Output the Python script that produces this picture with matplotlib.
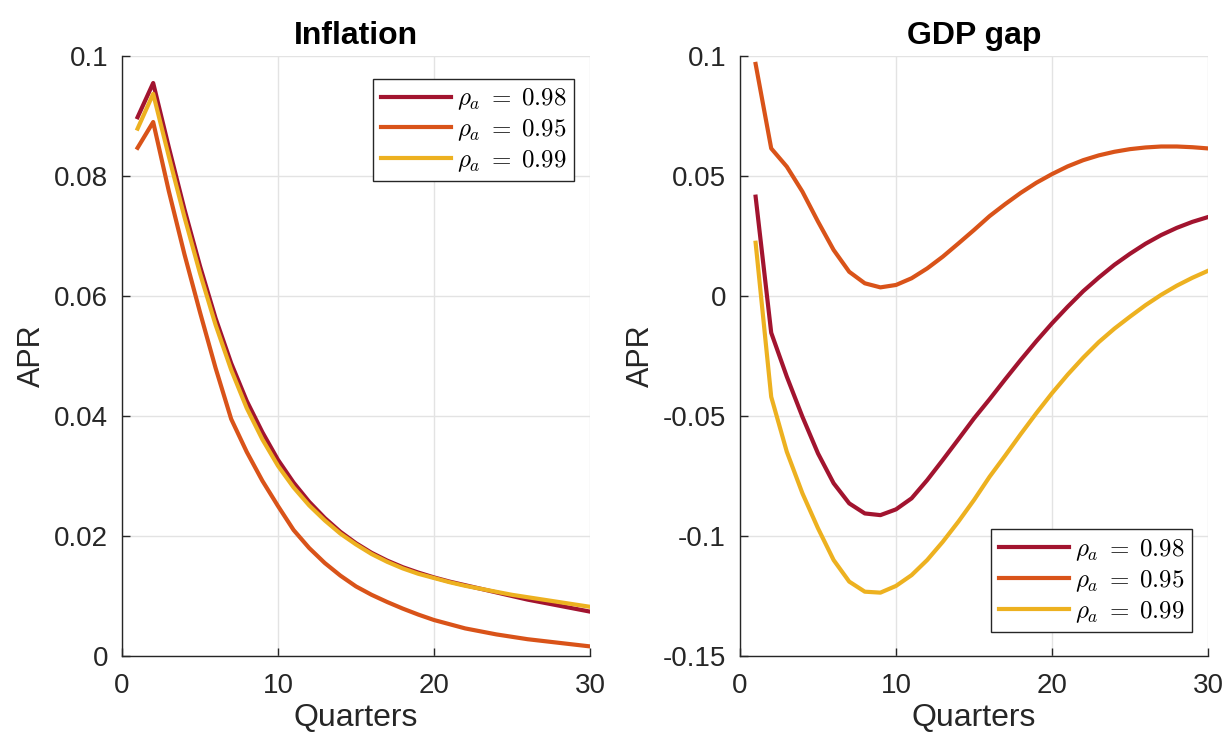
import numpy as np
import matplotlib
matplotlib.use("Agg")
from matplotlib import pyplot as plt

plt.rcParams['font.family'] = ['Liberation Sans', 'DejaVu Sans']
plt.rcParams['mathtext.fontset'] = 'cm'
plt.rcParams['axes.unicode_minus'] = False

quarters = np.arange(1, 31)

# inflation responses
infl_098 = [0.0898, 0.0955, 0.0848, 0.0745, 0.0650, 0.0563, 0.0488, 0.0425, 0.0373, 0.0327,
            0.0289, 0.0257, 0.0230, 0.0207, 0.0188, 0.0172, 0.0159, 0.0148, 0.0139, 0.0131,
            0.0124, 0.0118, 0.0112, 0.0106, 0.0100, 0.0094, 0.0089, 0.0084, 0.0079, 0.0074]
infl_095 = [0.0847, 0.0890, 0.0775, 0.0670, 0.0573, 0.0480, 0.0395, 0.0340, 0.0292, 0.0250,
            0.0210, 0.0180, 0.0155, 0.0134, 0.0116, 0.0102, 0.0090, 0.0079, 0.0069, 0.0060,
            0.0053, 0.0046, 0.0041, 0.0036, 0.0032, 0.0028, 0.0025, 0.0022, 0.0019, 0.0016]
infl_099 = [0.0879, 0.0937, 0.0833, 0.0732, 0.0638, 0.0552, 0.0477, 0.0413, 0.0361, 0.0317,
            0.0281, 0.0251, 0.0226, 0.0204, 0.0186, 0.0170, 0.0157, 0.0146, 0.0137, 0.0130,
            0.0123, 0.0117, 0.0112, 0.0107, 0.0102, 0.0098, 0.0094, 0.0090, 0.0086, 0.0082]

# gdp gap responses
gap_098 = [0.0414, -0.0153, -0.0336, -0.0503, -0.0656, -0.0780, -0.0864, -0.0906, -0.0913, -0.0889,
           -0.0843, -0.0767, -0.0683, -0.0597, -0.0510, -0.0430, -0.0347, -0.0266, -0.0188, -0.0114,
           -0.0045, 0.0020, 0.0077, 0.0130, 0.0176, 0.0218, 0.0254, 0.0284, 0.0309, 0.0329]
gap_095 = [0.0967, 0.0615, 0.0539, 0.0435, 0.0310, 0.0192, 0.0101, 0.0053, 0.0036, 0.0046,
           0.0074, 0.0115, 0.0164, 0.0219, 0.0275, 0.0333, 0.0383, 0.0430, 0.0472, 0.0508,
           0.0540, 0.0566, 0.0586, 0.0601, 0.0612, 0.0619, 0.0623, 0.0623, 0.0620, 0.0615]
gap_099 = [0.0222, -0.0420, -0.0649, -0.0822, -0.0968, -0.1100, -0.1190, -0.1232, -0.1236, -0.1208,
           -0.1163, -0.1100, -0.1024, -0.0940, -0.0850, -0.0753, -0.0665, -0.0575, -0.0488, -0.0405,
           -0.0328, -0.0257, -0.0192, -0.0136, -0.0086, -0.0038, 0.0005, 0.0043, 0.0076, 0.0105]

labels = [r'$\rho_a\;=\;0.98$', r'$\rho_a\;=\;0.95$', r'$\rho_a\;=\;0.99$']
colors = ['#A2142F', '#D95319', '#EDB120']


def style_axes(ax):
    ax.grid(True, color='#e3e3e3', linewidth=1)
    ax.set_axisbelow(True)
    for s in ['top', 'right']:
        ax.spines[s].set_visible(False)
    for s in ['left', 'bottom']:
        ax.spines[s].set_color('#262626')
        ax.spines[s].set_linewidth(1)
    ax.tick_params(direction='in', length=6, width=1, colors='#262626',
                   labelsize=20, labelcolor='#262626')
    ax.tick_params(axis='x', pad=12)
    ax.tick_params(axis='y', pad=10)
    ax.set_xlim(0, 30)
    ax.set_xticks([0, 10, 20, 30])
    ax.set_xlabel('Quarters', fontsize=23, color='#262626', labelpad=3)
    ax.set_ylabel('APR', fontsize=22, color='#262626', labelpad=5)


fig = plt.figure(figsize=(12.26, 7.42), dpi=100)
ax1 = fig.add_axes([0.0995, 0.1159, 0.3817, 0.8086])
ax2 = fig.add_axes([0.6036, 0.1159, 0.3817, 0.8086])

for series, c, lab in zip([infl_098, infl_095, infl_099], colors, labels):
    ax1.plot(quarters, series, color=c, lw=3, label=lab)
for series, c, lab in zip([gap_098, gap_095, gap_099], colors, labels):
    ax2.plot(quarters, series, color=c, lw=3, label=lab)

style_axes(ax1)
ax1.set_ylim(0, 0.1)
ax1.set_yticks([0, 0.02, 0.04, 0.06, 0.08, 0.1])
ax1.set_yticklabels(['0', '0.02', '0.04', '0.06', '0.08', '0.1'])
ax1.set_title('Inflation', fontsize=23, fontweight='bold', pad=9)

style_axes(ax2)
ax2.set_ylim(-0.15, 0.1)
ax2.set_yticks([-0.15, -0.1, -0.05, 0, 0.05, 0.1])
ax2.set_yticklabels(['-0.15', '-0.1', '-0.05', '0', '0.05', '0.1'])
ax2.set_title('GDP gap', fontsize=23, fontweight='bold', pad=9)

leg_kw = dict(fontsize=18, fancybox=False, edgecolor='#262626', framealpha=1,
              borderaxespad=0, handlelength=2.8, handletextpad=0.25,
              labelspacing=0.2, borderpad=0.3)
l1 = ax1.legend(loc='upper right', bbox_to_anchor=(0.966, 0.962), **leg_kw)
l2 = ax2.legend(loc='lower right', bbox_to_anchor=(0.966, 0.04), **leg_kw)
for l in (l1, l2):
    l.get_frame().set_linewidth(1)

fig.savefig('out.png', dpi=100)
